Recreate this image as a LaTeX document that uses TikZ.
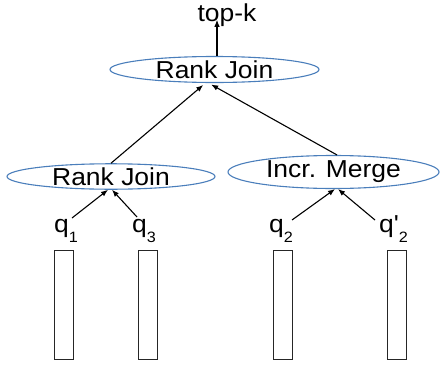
\documentclass[tikz,border=0pt]{standalone}
\usepackage{fontspec}
\setmainfont{Liberation Sans}
\usetikzlibrary{arrows.meta,calc,shapes.geometric}
\definecolor{opblue}{HTML}{4A7EBB}
% labels are set slightly wide
\newcommand\oplabel[1]{\scalebox{1.08}[1]{\fontsize{24.5}{25}\selectfont #1}}
% query label with a lowered index
\newcommand\qlabel[2]{\scalebox{1.08}[1]{\fontsize{24.5}{25}\selectfont #1\raisebox{-10pt}{\fontsize{15}{15}\selectfont #2}}}
\begin{document}
\begin{tikzpicture}[x=1pt,y=-1pt,
  op/.style={ellipse,draw=opblue,line width=1.1pt,inner sep=0pt,fill=none},
  qlab/.style={anchor=base west,inner sep=0pt},
  src/.style={draw=black!85,line width=1.1pt,minimum width=19pt,minimum height=109pt,inner sep=0pt,anchor=north west},
  arr/.style={draw=black,line width=1.1pt,-{Latex[length=7pt,width=5.5pt]}}]
\path[use as bounding box] (0,0) rectangle (442,367);

% operators
\node[op,minimum width=209pt,minimum height=26pt] (top) at (214.5,69.5) {\oplabel{Rank Join}};
\node[op,minimum width=208pt,minimum height=25pt] (rj) at (111,176.5) {\oplabel{Rank Join}};
\node[op,minimum width=211pt,minimum height=33pt] (im) at (333.5,172) {\oplabel{Incr. Merge}};

% result
\node[anchor=base,inner sep=0pt] (topk) at (227,21.5) {\oplabel{top-k}};

% query labels
\node[qlab] (q1) at (54,232) {\qlabel{q}{1}};
\node[qlab] (q3) at (132,232) {\qlabel{q}{3}};
\node[qlab] (q2) at (269,232) {\qlabel{q}{2}};
\node[qlab] (q2p) at (379,232) {\qlabel{q\textquotesingle}{2}};

% source lists
\node[src] (s1) at (54,250) {};
\node[src] (s3) at (138,250) {};
\node[src] (s2) at (273,250) {};
\node[src] (s2p) at (387,250) {};

% connectors
\coordinate (out) at ($(top.north)+(2.5,0)$);
\draw[arr] (out) -- ($(out |- topk.south)+(0,-7)$);
\draw[arr,shorten >=3pt] (rj.north) -- ($(top.south)+(-9,0)$);
\draw[arr,shorten >=3pt] ($(im.north)+(3.5,0)$) -- ($(top.south)+(-6,0)$);
\draw[arr] ($(q1.base west)+(18,-14)$) -- ($(rj.south)+(-3,0)$);
\draw[arr] ($(q3.base west)+(5,-15)$) -- ($(rj.south)+(1,0)$);
\draw[arr] ($(q2.base west)+(23,-12)$) -- ($(im.south)+(1.5,0)$);
\draw[arr] ($(q2p.base west)+(-4,-12)$) -- ($(im.south)+(4.5,0)$);
\end{tikzpicture}
\end{document}
